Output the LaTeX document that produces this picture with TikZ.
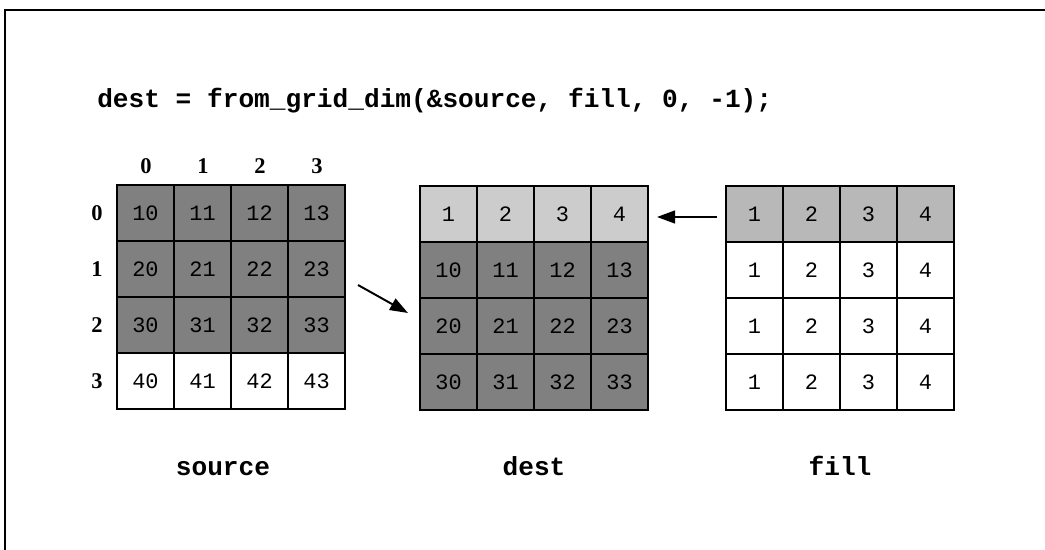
\documentclass[tikz,border=0pt]{standalone}
\usepackage{fontspec}
\setmonofont{Liberation Mono}
\newfontfamily\idxfont{Liberation Serif}
\usepackage{tikz}
\usetikzlibrary{positioning, calc, arrows.meta}

\begin{document}
\begin{tikzpicture}[
    x=0.025cm, y=-0.025cm,
    cell/.style={rectangle, draw=black, line width=1.8pt, inner sep=0pt, outer sep=0pt,
                 minimum width=1.425cm, minimum height=1.4cm,
                 font=\ttfamily\fontsize{15.6}{18}\selectfont},
    darkcell/.style={cell, fill=black!50},
    lightcell/.style={cell, fill=black!20},
    idx/.style={font=\idxfont\bfseries\fontsize{16}{18}\selectfont, inner sep=0pt},
    lbl/.style={font=\ttfamily\bfseries\fontsize{18.6}{22}\selectfont, inner sep=0pt},
    flow/.style={-{Triangle[length=0.45cm, width=0.32cm]}, line width=1.4pt},
  ]
    \useasboundingbox (0,0) rectangle (1045,550);

    % Frame
    \draw[line width=2pt] (5,560) -- (5,10) -- (1055,10);

    % Call
    \node[lbl, anchor=base west] (call) at (97,108) {dest = from\_grid\_dim(\&source, fill, 0, -1);};

    % Source
    \foreach \r in {0,...,3} {
      \foreach \c in {0,...,3} {
        \pgfmathtruncatemacro{\val}{(\r+1)*10+\c}
        \ifnum\r<3
          \node[darkcell] (s-\r-\c) at (145.5+57*\c, 213+56*\r) {\val};
        \else
          \node[cell] (s-\r-\c) at (145.5+57*\c, 213+56*\r) {\val};
        \fi
      }
    }
    \foreach \i in {0,...,3} {
      \node[idx] (col-\i) at (146+57*\i, 166) {\i};
      \node[idx] (row-\i) at (97, 213+56*\i) {\i};
    }
    \node[lbl, anchor=base] (srcLbl) at (223,475) {source};

    % Dest
    \foreach \c in {0,...,3} {
      \pgfmathtruncatemacro{\val}{\c+1}
      \node[lightcell] (d-0-\c) at (448.5+57*\c, 214) {\val};
    }
    \foreach \r in {1,...,3} {
      \foreach \c in {0,...,3} {
        \pgfmathtruncatemacro{\val}{\r*10+\c}
        \node[darkcell] (d-\r-\c) at (448.5+57*\c, 214+56*\r) {\val};
      }
    }
    \node[lbl, anchor=base] (destLbl) at (534,475) {dest};

    % Fill
    \foreach \r in {0,...,3} {
      \foreach \c in {0,...,3} {
        \pgfmathtruncatemacro{\val}{\c+1}
        \ifnum\r=0
          \node[lightcell, fill=black!28] (f-\r-\c) at (754.5+57*\c, 214+56*\r) {\val};
        \else
          \node[cell] (f-\r-\c) at (754.5+57*\c, 214+56*\r) {\val};
        \fi
      }
    }
    \node[lbl, anchor=base] (fillLbl) at (840,475) {fill};

    % Arrows
    \draw[flow] ($(s-1-3.east)+(13,16)$) -- ($(d-2-0.west)+(-12,-13)$);
    \draw[flow] ($(f-0-0.west)+(-9,3)$) -- ($(d-0-3.east)+(9,3)$);
  \end{tikzpicture}
\end{document}
